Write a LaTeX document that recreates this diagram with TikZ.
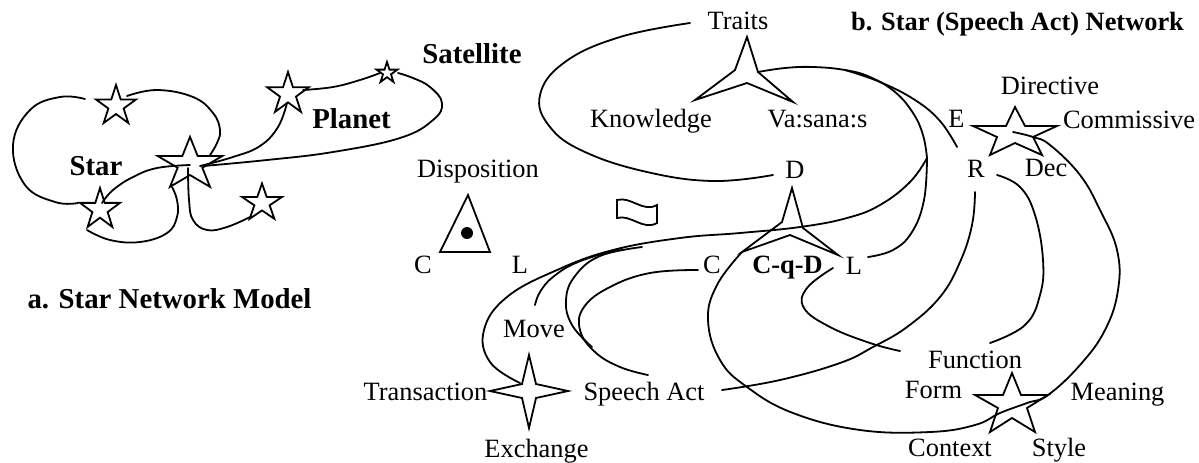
\documentclass[tikz,border=0pt]{standalone}
\usepackage{fontspec}
\setmainfont{Liberation Serif}
\begin{document}
\begin{tikzpicture}[x=0.5pt,y=-0.5pt]
\tikzset{
  link/.style={line width=0.9pt, line cap=round, line join=round},
  outline/.style={line width=0.9pt, line join=miter},
  lbl/.style={font=\fontsize{13.2}{15}\selectfont, inner sep=0pt, text height=8.7pt, text depth=0pt},
  blbl/.style={font=\fontsize{14.4}{17}\selectfont\bfseries, inner sep=0pt, text height=9.5pt, text depth=0pt},
  ttla/.style={font=\fontsize{14.4}{17}\selectfont\bfseries, inner sep=0pt, text height=9.5pt, text depth=0pt},
  ttlb/.style={font=\fontsize{13.2}{15}\selectfont\bfseries, inner sep=0pt, text height=8.7pt, text depth=0pt},
}
% five-pointed outline star: name, centre x, centre y, radius x, radius y
\newcommand\pentastar[5]{%
  \coordinate (#1) at (#2,#3);
  \draw[outline] plot[variable=\k, samples at={0,...,9}]
    ({#2+(#4)*(mod(\k,2)==0 ? 1 : 0.382)*cos(90+36*\k)},
     {#3-(#5)*(mod(\k,2)==0 ? 1 : 0.382)*sin(90+36*\k)}) -- cycle;
}
\useasboundingbox (0,0) rectangle (1199,462);

% ---------------- a. star network model ----------------
\pentastar{sA}{116}{106}{21}{21}
\pentastar{sB}{190}{164.5}{34}{27.6}
\pentastar{sP}{288}{94}{22}{22}
\pentastar{sS}{387}{73}{11}{11}
\pentastar{sC}{100}{209.5}{21}{21.5}
\pentastar{sD}{262}{203}{21}{19.5}

\draw[link] plot[smooth, tension=0.7] coordinates
  {(85,99) (60,97) (30,110) (13,145) (25,185) (55,202) (78,203)};
\draw[link] plot[smooth, tension=0.7] coordinates
  {(127,96) (157,90) (193,97) (213,113) (220,130) (217,143) (210,155)};
\draw[link] plot[smooth, tension=0.7] coordinates
  {(102,203) (113,190) (133,177) (157,168) (190,165)};
\draw[link] plot[smooth, tension=0.7] coordinates
  {(172,187) (177,200) (177,217) (167,233) (140,242) (110,240) (87,230)};
\draw[link] plot[smooth, tension=0.7] coordinates
  {(188,168) (189,200) (193,220) (207,230) (227,227) (250,217)};
\draw[link] plot[smooth, tension=0.7] coordinates
  {(200,166) (233,157) (260,146) (278,127) (287,103)};
\draw[link] plot[smooth, tension=0.7] coordinates
  {(203,166) (267,160) (333,152) (400,138) (433,120) (442,103) (430,87) (413,78) (398,73)};
\draw[link] plot[smooth, tension=0.7] coordinates
  {(303,90) (333,87) (360,80) (380,73)};

\node[blbl] (lstar) at (96,166) {Star};
\node[blbl] (lplanet) at (351.5,119) {Planet};
\node[blbl] (lsat) at (472,54) {Satellite};
\node[ttla] (titlea) at (169.5,298.5) {a. Star Network Model};

% ---------------- b. star (speech act) network ----------------
\node[ttlb] (titleb) at (1017.5,21.5) {b. Star (Speech Act) Network};

% three-pointed stars
\draw[outline] (747,37) coordinate (tr) -- (758,72) -- (793,102) -- (747,83) -- (695,100) -- (735,70) -- cycle;
\draw[outline] (792,188) coordinate (cqd) -- (803,228) -- (838,255) -- (790,235) -- (742,252) -- (782,222) -- cycle;
% disposition triangle with its dot
\draw[outline] (468,195) coordinate (disp) -- (490,252) -- (440,252) -- cycle;
\fill (467,233) coordinate (dot) circle (3pt);
% wavy sign
\draw[outline] (617,200) coordinate (wave) .. controls (631,196) and (643,213) .. (657,205)
  -- (657,223) .. controls (643,231) and (631,214) .. (617,218) -- cycle;
% four-pointed star
\draw[outline] (529,355) coordinate (trx) -- (536,384) -- (568,391) -- (536,398) -- (529,428)
  -- (522,398) -- (490,391) -- (522,384) -- cycle;
% flattened five-pointed stars
\draw[outline] (1015,107) coordinate (act) -- (1025,126) -- (1057,126) -- (1033,137) -- (1042,155)
  -- (1015,143) -- (990,155) -- (997,137) -- (973,126) -- (1006,126) -- cycle;
\draw[outline] (1012,373) coordinate (fun) -- (1021,395) -- (1048,395) -- (1027,408) -- (1035,432)
  -- (1012,418) -- (990,432) -- (998,408) -- (975,395) -- (1003,395) -- cycle;

% loop round the traits
\draw[link] plot[smooth, tension=0.7] coordinates
  {(690,23) (620,37) (565,62) (540,95) (550,127) (585,152) (647,172) (713,181) (773,175)};
% trunk from the traits star and its branches
\draw[link] plot[smooth, tension=0.7] coordinates
  {(758,72) (785,68) (813,67) (845,70) (870,77) (895,92) (913,113) (923,135) (927,158)};
\draw[link] plot[smooth, tension=0.7] coordinates
  {(845,70) (880,82) (915,100) (940,121) (957,147)};
\draw[link] plot[smooth, tension=0.7] coordinates
  {(927,158) (924,200) (912,232) (893,250) (868,257)};
\draw[link] plot[smooth, tension=0.7] coordinates
  {(927,158) (910,182) (880,205) (847,218) (800,227) (740,233) (680,238) (613,250)
   (557,270) (507,297) (484,330) (490,362) (520,383)};
\draw[link] plot[smooth, tension=0.7] coordinates
  {(622,248) (578,262) (553,277) (540,292) (535,305)};
\draw[link] plot[smooth, tension=0.7] coordinates
  {(642,247) (600,256) (575,276) (566,300) (572,325) (592,347)};
% C to speech act
\draw[link] plot[smooth, tension=0.7] coordinates
  {(698,270) (650,273) (610,287) (584,307) (580,330) (595,352) (620,367) (648,375)};
% R to speech act
\draw[link] plot[smooth, tension=0.7] coordinates
  {(975,192) (972,225) (960,262) (940,297) (907,327) (873,347) (840,363) (780,380) (722,390)};
% R to function
\draw[link] plot[smooth, tension=0.7] coordinates
  {(997,175) (1020,187) (1035,215) (1043,260) (1040,295) (1025,325) (990,343)};
% C-q-D round the form star up to the directive star
\draw[link] plot[smooth, tension=0.7] coordinates
  {(742,252) (717,285) (708,320) (720,360) (747,387) (793,413) (860,430) (930,432) (975,425)
   (1000,413) (1027,403) (1048,395) (1080,365) (1105,330) (1118,290) (1117,250) (1100,210)
   (1080,175) (1050,145) (1033,137) (1013,132)};
% C-q-D to function
\draw[link] plot[smooth, tension=0.7] coordinates
  {(833,268) (807,288) (804,308) (830,327) (870,343) (900,351)};

% labels
\node[lbl] (ltraits) at (738,20.5) {Traits};
\node[lbl] (lknow) at (651,118.5) {Knowledge};
\node[lbl] (lvas) at (817.5,118.5) {Va:sana:s};
\node[lbl] (ld) at (795,170) {D};
\node[lbl] (ldisp) at (478,168.5) {Disposition};
\node[lbl] (lc1) at (423,265) {C};
\node[lbl] (ll1) at (520,265) {L};
\node[lbl] (lc2) at (712,265) {C};
\node[lbl, font=\fontsize{13.2}{15}\selectfont\bfseries] (lcqd) at (787.5,265) {C-q-D};
\node[lbl] (ll2) at (854,266) {L};
\node[lbl] (lmove) at (534,329) {Move};
\node[lbl] (ltrans) at (425.5,391.5) {Transaction};
\node[lbl] (lsa) at (644,391.5) {Speech Act};
\node[lbl] (lexch) at (536.5,448.5) {Exchange};
\node[lbl] (le) at (956.5,118.3) {E};
\node[lbl] (ldir) at (1050,86) {Directive};
\node[lbl] (lcom) at (1129,120) {Commissive};
\node[lbl] (lr) at (976,168.3) {R};
\node[lbl] (ldec) at (1046,168) {Dec};
\node[lbl] (lfun) at (975,360) {Function};
\node[lbl] (lform) at (933.5,390) {Form};
\node[lbl] (lmean) at (1117.5,391.7) {Meaning};
\node[lbl] (lctx) at (950,448) {Context};
\node[lbl] (lstyle) at (1059,448) {Style};
\end{tikzpicture}
\end{document}
